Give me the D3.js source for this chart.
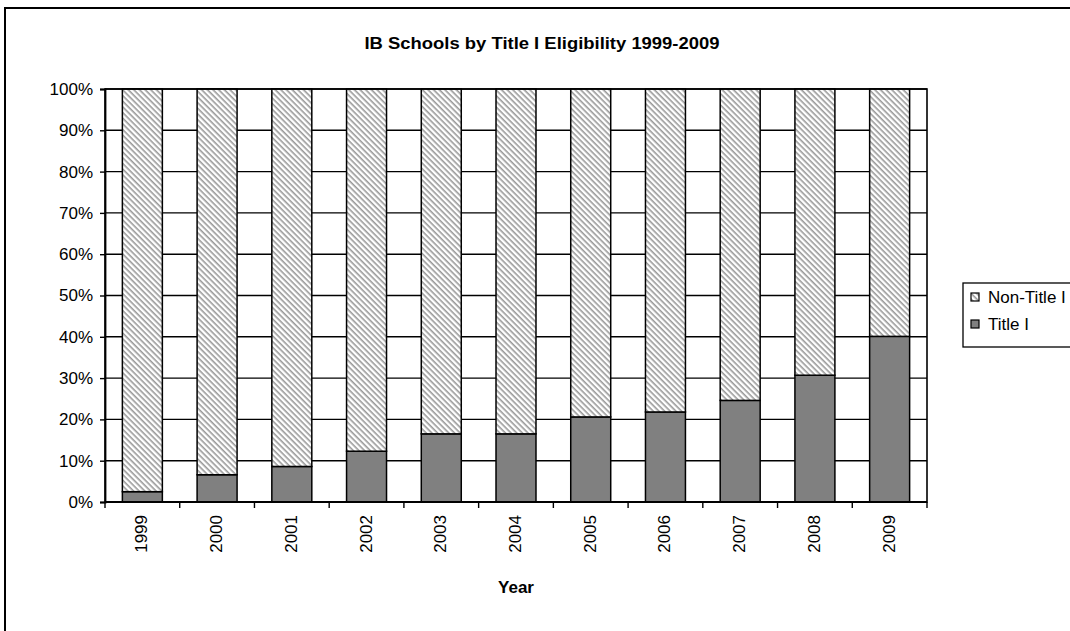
<!DOCTYPE html>
<html><head><meta charset="utf-8">
<script src="https://cdn.jsdelivr.net/npm/d3@7"></script>
<style>html,body{margin:0;padding:0;background:#fff;}svg{display:block;font-family:Arial,"Liberation Sans",sans-serif;}</style>
</head><body>
<script>
const years = ["1999","2000","2001","2002","2003","2004","2005","2006","2007","2008","2009"];
const titleI = [2.5, 6.6, 8.6, 12.3, 16.5, 16.5, 20.6, 21.8, 24.6, 30.7, 40.1];
const nonTitleI = [97.5, 93.4, 91.4, 87.7, 83.5, 83.5, 79.4, 78.2, 75.4, 69.3, 59.9];
const yTicks = [0,10,20,30,40,50,60,70,80,90,100];
const seriesNames = ["Title I", "Non-Title I"];
const chartTitle = "IB Schools by Title I Eligibility 1999-2009";
const xTitle = "Year";

(function(){
const W = 1070, H = 631;
const FF = "Arial, 'Liberation Sans', sans-serif";
const svg = d3.select("body").append("svg").attr("width", W).attr("height", H);

const defs = svg.append("defs");
const pat = defs.append("pattern").attr("id","hatch").attr("patternUnits","userSpaceOnUse")
  .attr("width",4).attr("height",4).attr("patternTransform","rotate(45)");
pat.append("rect").attr("width",4).attr("height",4).attr("fill","#fff");
pat.append("rect").attr("x",0).attr("y",0).attr("width",4).attr("height",1.6).attr("fill","#999");

// outer border
svg.append("rect").attr("x",5).attr("y",8).attr("width",W+20).attr("height",H+20)
  .attr("fill","none").attr("stroke","#000").attr("stroke-width",2);

const pL = 105, pR = 927, pT = 89, pB = 502;
const x = d3.scaleBand().domain(years).range([pL,pR]).paddingInner(0.465).paddingOuter(0.2325);
const y = d3.scaleLinear().domain([0,100]).range([pB, pT]);

// gridlines
svg.append("g").selectAll("line").data(yTicks).join("line")
  .attr("x1",pL).attr("x2",pR).attr("y1",d=>y(d)).attr("y2",d=>y(d))
  .attr("stroke","#000").attr("stroke-width",1.4);

// stacked data
const table = years.map((yr,i)=>({year:yr, "Title I":titleI[i], "Non-Title I":nonTitleI[i]}));
const stack = d3.stack().keys(seriesNames)(table);
const fills = {"Title I":"#808080", "Non-Title I":"url(#hatch)"};

svg.append("g").selectAll("g").data(stack).join("g")
  .attr("fill", d=>fills[d.key])
  .selectAll("rect").data(d=>d).join("rect")
  .attr("x", d=>x(d.data.year)).attr("width", x.bandwidth())
  .attr("y", d=>y(d[1])).attr("height", d=>y(d[0])-y(d[1]))
  .attr("stroke","#000").attr("stroke-width",1.5);

// plot area border
svg.append("rect").attr("x",pL).attr("y",pT).attr("width",pR-pL).attr("height",pB-pT)
  .attr("fill","none").attr("stroke","#000").attr("stroke-width",1.6);

// y axis
const yAxis = d3.axisLeft(y).tickValues(yTicks).tickFormat(d=>d+"%").tickSize(5).tickPadding(7);
const gy = svg.append("g").attr("transform",`translate(${pL},0)`).call(yAxis);
gy.select(".domain").attr("stroke","#000").attr("stroke-width",1.8);
gy.selectAll(".tick line").attr("stroke","#000").attr("stroke-width",1.4);
gy.selectAll("text").attr("font-size",17).attr("fill","#000").style("font-family",FF);

// x axis
const step = x.step();
const boundaries = d3.range(years.length+1).map(i=>pL + i*step);
const gx = svg.append("g");
gx.append("line").attr("x1",pL).attr("x2",pR).attr("y1",pB).attr("y2",pB)
  .attr("stroke","#000").attr("stroke-width",1.8);
gx.selectAll("line.tk").data(boundaries).join("line").attr("class","tk")
  .attr("x1",d=>d).attr("x2",d=>d).attr("y1",pB).attr("y2",pB+6)
  .attr("stroke","#000").attr("stroke-width",1.4);
gx.selectAll("text").data(years).join("text")
  .attr("transform",d=>`translate(${x(d)+x.bandwidth()/2+5},${pB+13}) rotate(-90)`)
  .attr("text-anchor","end").attr("font-size",17).attr("fill","#000").text(d=>d);

// titles
svg.append("text").attr("x",542).attr("y",49).attr("text-anchor","middle")
  .attr("font-size",16).attr("font-weight","bold").attr("textLength",355).attr("lengthAdjust","spacingAndGlyphs")
  .text(chartTitle);
svg.append("text").attr("x",(pL+pR)/2).attr("y",593).attr("text-anchor","middle")
  .attr("font-size",17).attr("font-weight","bold").text(xTitle);

// legend
const lg = svg.append("g");
lg.append("rect").attr("x",963).attr("y",283).attr("width",130).attr("height",64)
  .attr("fill","#fff").attr("stroke","#000").attr("stroke-width",1.3);
const legendItems = ["Non-Title I","Title I"];
legendItems.forEach((k,i)=>{
  const cy = 297 + i*27;
  lg.append("rect").attr("x",971).attr("y",cy-4).attr("width",8).attr("height",8)
    .attr("fill",fills[k]).attr("stroke","#000").attr("stroke-width",1.2);
  lg.append("text").attr("x",988).attr("y",cy+6).attr("font-size",17).text(k);
});
})();
</script>
</body></html>
